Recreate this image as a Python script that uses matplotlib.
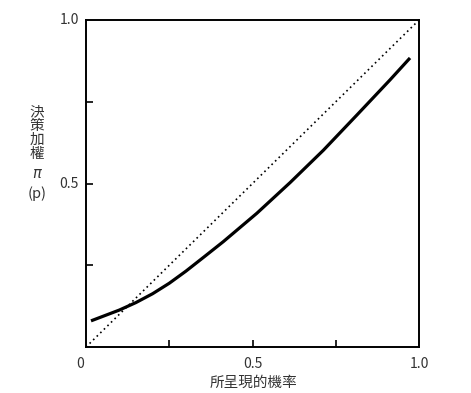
import matplotlib
matplotlib.use("Agg")
import matplotlib.pyplot as plt

plt.rcParams['font.family'] = ['Noto Sans CJK TC', 'DejaVu Sans']

# decision weight curve
prob = [0.015, 0.10, 0.15, 0.20, 0.25, 0.30, 0.355, 0.412, 0.513, 0.613, 0.713, 0.813, 0.913, 0.973]
weight = [0.080, 0.113, 0.136, 0.163, 0.195, 0.232, 0.276, 0.322, 0.409, 0.503, 0.602, 0.709, 0.817, 0.884]

diag = [0, 1]
tick_pos = [0.25, 0.5, 0.75]
x_labels = ['0', '0.5', '1.0']
y_labels = ['0.5', '1.0']
ylabel_lines = ['決', '策', '加', '權']

txt = '#333333'

fig = plt.figure(figsize=(4.71, 3.93), dpi=100)
ax = fig.add_axes([0.1826, 0.117, 0.707, 0.832])

ax.plot(diag, diag, color='black', lw=1.2, linestyle=(0, (1, 2)))
ax.plot(prob, weight, color='black', lw=2.3, solid_capstyle='butt',
        solid_joinstyle='round')

ax.set_xlim(0, 1)
ax.set_ylim(0, 1)
for s in ax.spines.values():
    s.set_linewidth(1.4)

ax.set_xticks(tick_pos)
ax.set_yticks(tick_pos)
ax.tick_params(direction='in', length=5, width=1.2, labelbottom=False, labelleft=False)

# labelled positions
for v, lab in zip([0, 0.5, 1.0], x_labels):
    ax.text(v - (0.018 if v == 0 else 0), -0.03, lab, transform=ax.transAxes,
            ha='center', va='top', fontsize=10, color=txt)
for v, lab in zip([0.5, 1.0], y_labels):
    ax.text(-0.022, v, lab, transform=ax.transAxes, ha='right', va='center',
            fontsize=10, color=txt)

fig.text(253 / 471, 1 - 383 / 393, '所呈現的機率', ha='center', va='center',
         fontsize=10.5, color=txt)

# stacked vertical y label
ys = [112, 126, 140, 154]
for ch, y in zip(ylabel_lines, ys):
    fig.text(37 / 471, 1 - y / 393, ch, ha='center', va='center', fontsize=10.5, color=txt)
fig.text(37 / 471, 1 - 173 / 393, 'π', ha='center', va='center', fontsize=10.5,
         style='italic', family='DejaVu Sans', color=txt)
fig.text(37 / 471, 1 - 194 / 393, '(p)', ha='center', va='center', fontsize=10.5, color=txt)

fig.savefig('out.png', dpi=100)
